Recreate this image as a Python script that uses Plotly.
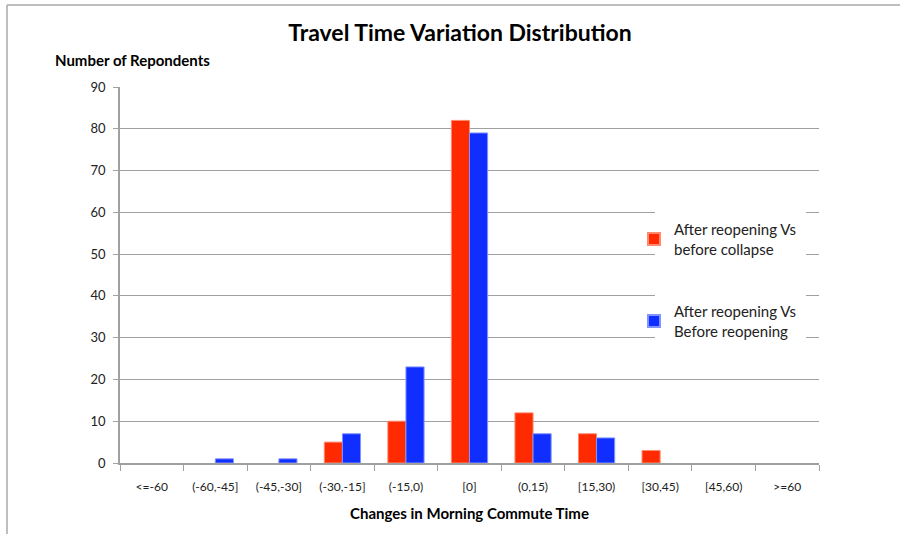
import plotly.graph_objects as go

categories = ["<=-60", "(-60,-45]", "(-45,-30]", "(-30,-15]", "(-15,0)", "[0]",
              "(0,15)", "[15,30)", "[30,45)", "[45,60)", ">=60"]
before_collapse = [0, 0, 0, 5, 10, 82, 12, 7, 3, 0, 0]
before_reopening = [0, 1, 1, 7, 23, 79, 7, 6, 0, 0, 0]
series_names = ["After reopening Vs<br>before collapse", "After reopening Vs<br>Before reopening"]

FONT = "Lato, 'Open Sans', sans-serif"
W, H = 900, 534
L, R, T, B = 120, 81, 87, 71
pw, ph = W - L - R, H - T - B

def px_x(p):
    return (p - L) / pw

def px_y(p):
    return (H - B - p) / ph

def nz(vals):
    return [v if v else None for v in vals]

fig = go.Figure()
fig.add_trace(go.Bar(x=categories, y=nz(before_collapse), name=series_names[0],
                     marker=dict(color="#FF2A00", line=dict(color="#FF8A70", width=1)),
                     legendgroup="a"))
fig.add_trace(go.Bar(x=categories, y=nz(before_reopening), name=series_names[1],
                     marker=dict(color="#0F2EFF", line=dict(color="#7F94FF", width=1)),
                     legendgroup="b"))

fig.update_layout(
    width=W, height=H,
    margin=dict(l=L, r=R, t=T, b=B),
    paper_bgcolor="white", plot_bgcolor="white",
    barmode="group", bargap=0.43, bargroupgap=0,
    font=dict(family=FONT, size=12, color="#222"),
    title=dict(text="<b>Travel Time Variation Distribution</b>",
               font=dict(family=FONT, size=23, color="black"),
               x=460 / W, xanchor="center", y=1 - 33 / H, yanchor="middle"),
    showlegend=True,
    legend=dict(x=px_x(634), y=px_y(213), xanchor="left", yanchor="top",
                bgcolor="rgba(0,0,0,0)", borderwidth=0,
                font=dict(family=FONT, size=15, color="#222"),
                traceorder="grouped", tracegroupgap=40,
                itemsizing="constant"),
    xaxis=dict(type="category", showgrid=False, showline=True, linecolor="#A0A0A0", linewidth=1.5,
               ticks="outside", tickson="boundaries", ticklen=6, tickcolor="#A0A0A0",
               ticklabelstandoff=12,
               tickfont=dict(size=12, color="#222"),
               title=dict(text="<b>Changes in Morning Commute Time</b>",
                          font=dict(family=FONT, size=15, color="black"), standoff=15)),
    yaxis=dict(range=[0, 90], dtick=10, showgrid=True, gridcolor="#A0A0A0", gridwidth=1.2,
               showline=True, linecolor="#A0A0A0", linewidth=1.5, zeroline=False,
               ticks="outside", ticklen=5, tickcolor="#A0A0A0", ticklabelstandoff=5,
               tickfont=dict(size=13, color="#222")),
    annotations=[dict(text="<b>Number of Repondents</b>", xref="paper", yref="paper",
                      x=px_x(53), y=px_y(60), xanchor="left", yanchor="middle",
                      showarrow=False, font=dict(family=FONT, size=15, color="black"))],
    shapes=[
        dict(type="rect", xref="paper", yref="paper", x0=px_x(655), x1=px_x(806),
             y0=px_y(345), y1=px_y(212), fillcolor="white", line=dict(width=0), layer="above"),
        dict(type="line", xref="paper", yref="paper", x0=px_x(7), x1=px_x(900), y0=px_y(5), y1=px_y(5),
             line=dict(color="#A8A8A8", width=1.5)),
        dict(type="line", xref="paper", yref="paper", x0=px_x(7), x1=px_x(7), y0=px_y(5), y1=px_y(534),
             line=dict(color="#A8A8A8", width=1.5)),
    ],
)

fig.write_html("out.html", config={"displayModeBar": False},
               post_script="document.body.style.margin='0';")
